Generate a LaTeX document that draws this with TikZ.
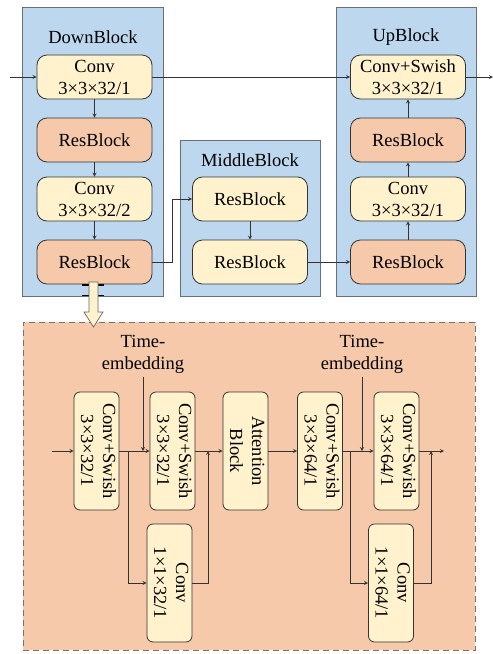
\documentclass[tikz,border=0pt]{standalone}
\usepackage{fontspec}
\setmainfont{Liberation Serif}
\usepackage{graphicx}
\usepackage{tikz}
\usetikzlibrary{arrows,positioning,backgrounds}
\usepackage{xcolor}
\definecolor{panelblue}{HTML}{BDD7EE}
\definecolor{panelline}{HTML}{66707A}
\definecolor{cream}{HTML}{FFF2CC}
\definecolor{salmon}{HTML}{F6C9AA}
\definecolor{wire}{HTML}{333333}
\tikzstyle{arrow} = [->,>=stealth,line width=0.8pt,color=wire]
\tikzstyle{link} = [line width=0.8pt,color=wire]
\tikzstyle{panel} = [draw=panelline,fill=panelblue,line width=1pt,inner sep=0pt]
\tikzstyle{box} = [draw=wire,fill=cream,line width=0.8pt,rounded corners=10pt,minimum width=115pt,minimum height=44pt,inner sep=0pt,align=center]
\tikzstyle{resbox} = [box,fill=salmon]
\tikzstyle{tallbox} = [box,rounded corners=6pt,minimum width=45pt,minimum height=118pt]
\newcommand{\vtext}[2]{\rotatebox{-90}{\begin{tabular}{@{}c@{}}#1\\#2\end{tabular}}}

\begin{document}
\begin{tikzpicture}[x=1pt,y=-1pt,font=\fontsize{18.5}{22}\selectfont]
\useasboundingbox (0,0) rectangle (493,654);

% Panels
\node[panel,minimum width=141pt,minimum height=289pt] (down) at (92.5,151.5) {};
\node[panel,minimum width=140pt,minimum height=156pt] (middle) at (250,218) {};
\node[panel,minimum width=140pt,minimum height=289pt] (up) at (406,151.5) {};
\node[draw=black!55,fill=salmon,dash pattern=on 6pt off 4pt,line width=0.9pt,minimum width=452pt,minimum height=328pt,inner sep=0pt] (detail) at (249,486) {};

\node (downtitle) at (93,37) {DownBlock};
\node (middletitle) at (250,160) {MiddleBlock};
\node (uptitle) at (406,37) {UpBlock};

% DownBlock
\node[box] (c1) at (94.5,77) {Conv\\3×3×32/1};
\node[resbox] (r1) at (94.5,140) {ResBlock};
\node[box] (c2) at (94.5,199) {Conv\\3×3×32/2};
\node[resbox] (r2) at (94.5,262) {ResBlock};

% MiddleBlock
\node[box] (m1) at (250,199) {ResBlock};
\node[box] (m2) at (250,262) {ResBlock};

% UpBlock
\node[box] (u1) at (408,77) {Conv+Swish\\3×3×32/1};
\node[resbox] (u2) at (408,140) {ResBlock};
\node[box] (u3) at (408,199) {Conv\\3×3×32/1};
\node[resbox] (u4) at (408,262) {ResBlock};

\coordinate (in1) at (10,77);
\coordinate (out1) at (493,77);
\coordinate (bend) at (172,262);

\draw[arrow] (in1) -- (c1.west);
\draw[arrow] (c1.south) -- (r1.north);
\draw[arrow] (r1.south) -- (c2.north);
\draw[arrow] (c2.south) -- (r2.north);
\draw[arrow] (c1.east) -- (u1.west);
\draw[arrow] (u1.east) -- (out1);
\draw[arrow] (r2.east) -- (bend) |- (m1.west);
\draw[arrow] (m1.south) -- (m2.north);
\draw[arrow] (m2.east) -- (u4.west);
\draw[arrow] (u4.north) -- (u3.south);
\draw[arrow] (u3.north) -- (u2.south);
\draw[arrow] (u2.north) -- (u1.south);

% ResBlock in detail
\node[tallbox] (b1) at (96.5,451) {\vtext{Conv+Swish}{3×3×32/1}};
\node[tallbox] (b2) at (172.5,451) {\vtext{Conv+Swish}{3×3×32/1}};
\node[tallbox] (k1) at (169.5,583) {\vtext{Conv}{1×1×32/1}};
\node[tallbox] (att) at (245.5,451) {\vtext{Attention}{Block}};
\node[tallbox] (b4) at (320,451) {\vtext{Conv+Swish}{3×3×64/1}};
\node[tallbox] (b5) at (396.5,451) {\vtext{Conv+Swish}{3×3×64/1}};
\node[tallbox] (k2) at (391,583) {\vtext{Conv}{1×1×64/1}};

\node[align=center] (t1) at (143,354) {Time-\\embedding};
\node[align=center] (t2) at (362,354) {Time-\\embedding};

\coordinate (in2) at (52,451);
\coordinate (s1) at (128,451);
\coordinate (j1) at (208,451);
\coordinate (s2) at (350,451);
\coordinate (j2) at (431,451);
\coordinate (out2) at (444,451);

\draw[arrow] (in2) -- (b1.west);
\draw[arrow] (b1.east) -- (b2.west);
\draw[arrow] (s1) |- (k1.west);
\draw[arrow] (t1.south) -- (t1.south |- b2.west);
\draw[arrow] (b2.east) -- (att.west);
\draw[arrow] (k1.east) -| (j1);
\draw[arrow] (att.east) -- (b4.west);
\draw[arrow] (b4.east) -- (b5.west);
\draw[arrow] (s2) |- (k2.west);
\draw[arrow] (t2.south) -- (t2.south |- b5.west);
\draw[arrow] (b5.east) -- (out2);
\draw[arrow] (k2.east) -| (j2);

% hollow arrow down to the detail
\draw[line width=1.3pt,black] (82,285) -- (104,285) (82,295.5) -- (104,295.5);
\draw[draw=black!60,fill=cream,line width=0.7pt] (89,282) -- (98,282) -- (98,312) -- (103,312) -- (93.5,327) -- (84,312) -- (89,312) -- cycle;
\end{tikzpicture}
\end{document}
